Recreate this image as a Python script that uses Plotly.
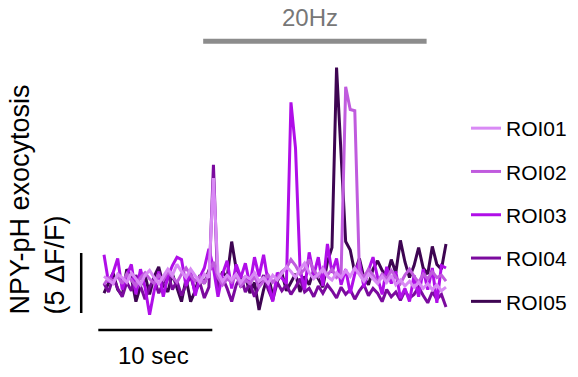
import plotly.graph_objects as go

# ---- data ----
FRAME_INTERVAL = 0.4  # seconds per sample
roi_names = ["ROI01", "ROI02", "ROI03", "ROI04", "ROI05"]
roi_colors = ["#d98af5", "#c05bde", "#b00ee8", "#7b0a9e", "#3e0552"]

roi01 = [0.3, 0.0, -0.3, 0.5, 0.2, -0.2, 0.6, 0.1, -0.4, 0.4, 0.8, 0.2, -0.3, 0.3, 0.9, 0.4,
         1.3, 0.7, 0.2, 0.9, 0.3, -0.2, 0.5, 0.2, 8.5, 0.6, -0.1, 0.4, 0.0, 0.5, -0.2, 0.3,
         0.1, 0.6, -0.1, 0.2, -0.3, 0.4, 0.0, 0.6, 1.1, 0.7, 0.2, 0.9, 1.4, 0.6, 0.1, 0.5,
         0.9, 0.3, 0.0, 0.6, 0.2, 0.8, 0.3, 1.0, 0.4, -0.1, 0.5, 0.1, -0.3, 0.3, -0.2, 0.4,
         -0.4, 0.0, -0.5, -0.1, -0.6, -0.2, -0.7, -0.3, -0.8, -0.4, -0.9, -0.6]
roi02 = [-0.4, 0.2, -0.1, 0.3, -0.3, 0.5, 0.0, -0.5, 0.2, 0.6, 0.1, -0.3, 0.4, 0.0, 0.7, 0.2,
         -0.2, 0.5, 1.0, 0.4, -0.1, 0.3, -0.3, 0.6, 1.5, 0.2, -0.4, 0.1, -0.2, 0.4, -0.5, 0.0,
         -0.3, 0.3, -0.6, -0.1, 0.4, -0.2, 0.2, 0.7, 1.0, 1.7, 1.2, 0.5, 0.9, 1.7, 0.8, 0.3,
         1.0, 0.4, 0.9, 0.2, 0.5, 16.1, 14.2, 14.1, 0.8, 0.2, 0.9, 0.4, -0.2, 0.5, 0.1, 0.8,
         0.2, -0.3, 0.4, 0.9, 0.3, -0.2, 0.5, 0.1, 0.7, 0.2, 0.4, -0.1]
roi03 = [2.1, -0.2, 0.6, 1.8, -0.8, 0.4, 1.3, -1.2, 0.9, -0.6, -2.9, -0.9, 0.7, -1.4, 0.3, 1.2,
         1.9, 1.7, -0.5, 0.8, -1.3, 0.2, 1.0, 2.6, 1.0, -1.4, 0.5, 1.6, -0.7, 1.3, 0.2, 1.4,
         -0.4, 1.9, 0.3, 2.1, -0.2, -1.8, 0.6, 0.1, -0.3, 14.8, 11.0, 0.9, -0.8, 2.3, 0.4, 1.9,
         -0.5, 3.0, 0.6, 1.8, -0.4, 0.9, -1.1, 0.5, 1.6, -0.6, 0.8, 1.9, 0.2, -1.2, 1.1, -0.3,
         0.7, -1.5, -0.7, -1.8, 0.4, -1.4, 0.9, -0.8, 1.0, -1.9, 1.2, 1.0]
roi04 = [-0.3, -1.0, 0.2, -0.7, -1.4, -0.2, -0.9, 0.4, -0.5, -1.6, -0.6, 0.1, -1.1, -0.3, 0.6, -0.8,
         -0.1, -1.3, -0.4, 0.3, -1.0, -0.2, -1.5, -0.6, 9.6, -0.9, 0.2, -0.7, -1.8, -0.4, 0.3, -1.0,
         -0.3, -1.4, -0.5, 0.4, -0.8, -1.7, -0.2, -0.9, -0.4, -1.2, -0.6, 0.1, -1.0, -0.7, -1.4, -0.5,
         -1.1, -0.4, -0.9, -1.5, -0.6, -1.2, -0.8, -1.6, -0.9, -0.4, -1.3, -0.7, -1.1, -1.8, -0.8, -1.4,
         -1.0, -1.7, -0.9, -1.5, -1.2, -0.6, -1.3, -1.9, -1.0, -1.6, -1.2, -2.25]
roi05 = [-1.1, -0.2, 0.6, -0.8, -1.3, 0.9, 0.2, -1.8, -0.5, 0.4, -1.2, 0.3, 1.1, -0.4, -1.0, 0.5,
         -0.6, -1.8, 0.1, -1.8, -0.9, 0.4, -0.3, 0.8, 1.2, -0.5, 0.7, 0.2, 3.2, 0.9, -0.6, 0.3,
         -1.1, -0.2, -2.5, -0.8, 0.4, -1.3, -0.1, 0.6, -0.9, -0.2, 0.5, -1.0, 0.3, -0.4, 0.8, 0.1,
         -0.6, 1.5, 2.7, 17.7, 10.0, 3.2, 2.5, 0.6, 1.8, 0.2, -0.4, 0.9, 1.6, 0.8, 0.3, 1.7,
         0.6, 3.3, 1.5, 0.2, 1.2, 2.7, 1.0, 0.5, 2.8, 1.3, 0.9, 3.0]
roi_values = [roi01, roi02, roi03, roi04, roi05]

STIM_START, STIM_END = 8.7, 28.3   # s
STIM_LABEL = "20Hz"
SCALE_T = 10        # sec
SCALE_DFF = 5       # dF/F
TIME_LABEL = "10 sec"
Y_LABEL = "NPY-pH exocytosis<br>(5 \u0394F/F)"

FONT = "Liberation Sans, Arial, Helvetica, sans-serif"

time = [i * FRAME_INTERVAL for i in range(len(roi01))]

fig = go.Figure()
# draw ROI05 first so ROI01 ends up on top; legend order by legendrank
for rank, (name, col, vals) in reversed(list(enumerate(zip(roi_names, roi_colors, roi_values)))):
    fig.add_trace(go.Scatter(x=time, y=vals, mode="lines", name=name,
                             legendgroup=name, legendrank=rank + 1,
                             line=dict(color=col, width=3)))

# scale bars and stimulus bar
sb_x0 = -0.5
sb_y = -4.17
vb_x = -2.0
vb_y0 = -2.75
stim_y = 19.9
fig.add_shape(type="line", x0=sb_x0, x1=sb_x0 + SCALE_T, y0=sb_y, y1=sb_y,
              line=dict(color="black", width=2.5))
fig.add_shape(type="line", x0=vb_x, x1=vb_x, y0=vb_y0, y1=vb_y0 + SCALE_DFF,
              line=dict(color="black", width=2.5))
fig.add_shape(type="line", x0=STIM_START, x1=STIM_END, y0=stim_y, y1=stim_y,
              line=dict(color="#8c8c8c", width=5))

fig.add_annotation(x=(STIM_START + STIM_END) / 2 - 0.4, y=21.9, text=STIM_LABEL,
                   showarrow=False, font=dict(family=FONT, size=24, color="#777777"),
                   xanchor="center", yanchor="middle")
fig.add_annotation(x=sb_x0 + SCALE_T / 2 - 0.2, y=-6.25, text=TIME_LABEL,
                   showarrow=False, font=dict(family=FONT, size=24, color="black"),
                   xanchor="center", yanchor="middle")
fig.add_annotation(xref="paper", yref="paper", x=37 / 578, y=1 - 199.5 / 377,
                   text=Y_LABEL, textangle=-90, align="left", showarrow=False,
                   font=dict(family=FONT, size=27, color="black"),
                   xanchor="center", yanchor="middle")

fig.update_layout(
    width=578, height=377,
    margin=dict(l=0, r=0, t=0, b=0),
    paper_bgcolor="white", plot_bgcolor="white",
    xaxis=dict(range=[-9.123, 41.58], visible=False, fixedrange=True),
    yaxis=dict(range=[-8.083, 23.33], visible=False, fixedrange=True),
    showlegend=True,
    legend=dict(x=466 / 578, y=1 - 108 / 377, xanchor="left", yanchor="top",
                traceorder="grouped", tracegroupgap=13,
                font=dict(family=FONT, size=21, color="black"),
                bgcolor="rgba(0,0,0,0)"),
)

fig.write_html("out.html")
